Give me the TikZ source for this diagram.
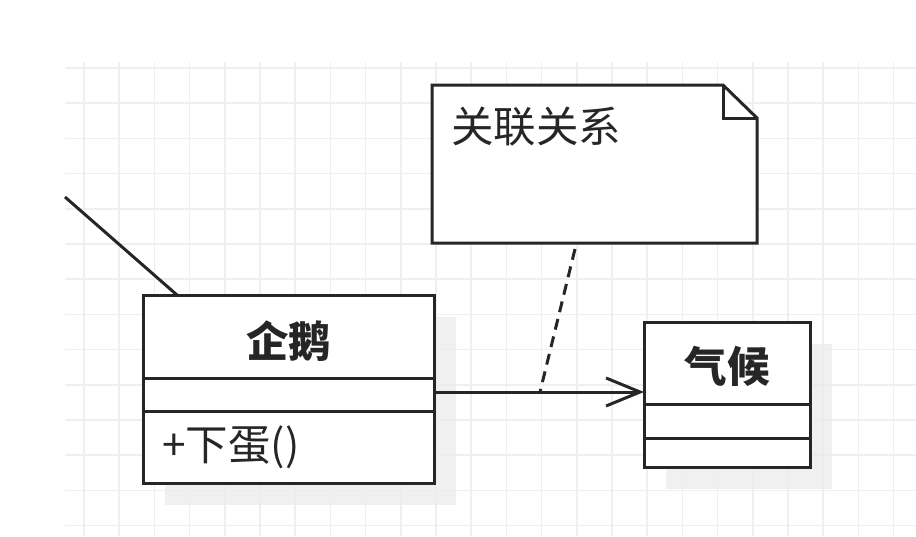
\documentclass[tikz,border=0pt]{standalone}
\usepackage{fontspec}
\newfontfamily\cjk{Noto Sans CJK SC}
\usetikzlibrary{arrows.meta,calc}
\definecolor{gridc}{RGB}{238,238,243}
\definecolor{shadowc}{RGB}{236,236,236}
\tikzset{
  box/.style={draw=black!85, line width=3pt, fill=white, inner sep=0pt, outer sep=0pt},
  bigtext/.style={font=\cjk\fontsize{42.5}{48}\selectfont, text=black!85, inner sep=0pt},
  titletext/.style={font=\cjk\bfseries\fontsize{42.5}{48}\selectfont, text=black!85, inner sep=0pt},
  shadowbox/.style={fill=shadowc, draw=none, opacity=0.75},
  assoc/.style={line width=3pt, draw=black!85, -{Straight Barb[length=34pt,width=28pt,line width=3pt]}},
  plainline/.style={line width=3pt, draw=black!85},
  notelink/.style={line width=3pt, draw=black!85, dash pattern=on 11pt off 7pt}
}
\begin{document}
\begin{tikzpicture}[x=1pt,y=-1pt]
\useasboundingbox[fill=white] (0,0) rectangle (916,536);
% grid
\foreach \i in {0,...,23} {
  \draw[gridc, line width=1.6pt] (84+35.2*\i,62) -- (84+35.2*\i,536);
}
\foreach \j in {0,...,13} {
  \draw[gridc, line width=1.6pt] (65,68+35.2*\j) -- (916,68+35.2*\j);
}
% shadows
\fill[shadowbox] (165,317) rectangle (456,505);
\fill[shadowbox] (666,344) rectangle (832,489);
% penguin class
\node[box, minimum width=291pt, minimum height=83pt, anchor=north west] (pengtitle) at (143,295) {};
\node[box, minimum width=291pt, minimum height=33pt, anchor=north] (pengattr) at (pengtitle.south) {};
\node[box, minimum width=291pt, minimum height=72pt, anchor=north] (pengmeth) at (pengattr.south) {};
\node[titletext] (pengname) at ([yshift=-5pt]pengtitle.center) {企鹅};
\node[bigtext, anchor=west] (pengop) at ([xshift=19pt]pengmeth.west) {+下蛋()};
% climate class
\node[box, minimum width=166pt, minimum height=82pt, anchor=north west] (climtitle) at (644,322) {};
\node[box, minimum width=166pt, minimum height=34pt, anchor=north] (climattr) at (climtitle.south) {};
\node[box, minimum width=166pt, minimum height=29pt, anchor=north] (climmeth) at (climattr.south) {};
\node[titletext] (climname) at ([yshift=-3pt]climtitle.center) {气候};
% note
\node[minimum width=325pt, minimum height=158pt, inner sep=0pt, outer sep=0pt, anchor=north west] (note) at (432,85) {};
\draw[plainline, fill=white, line join=miter]
  (note.north west) -- ([xshift=-34pt]note.north east) -- ([yshift=-33pt]note.north east)
  -- (note.south east) -- (note.south west) -- cycle;
\draw[plainline, line join=miter]
  ([xshift=-34pt]note.north east) -- ([xshift=-34pt,yshift=-33pt]note.north east) -- ([yshift=-33pt]note.north east);
\node[bigtext, anchor=west] (notetext) at ([xshift=19pt,yshift=-42pt]note.north west) {关联关系};
% association
\coordinate (assocstart) at ([yshift=2.5pt]pengattr.east);
\draw[assoc] (assocstart) -- (assocstart -| climtitle.west);
\coordinate (linkpt) at (540,392);
\draw[notelink] ([xshift=-19.5pt,yshift=-6pt]note.south) -- (linkpt);
% incoming line from the left
\coordinate (leftend) at (65,197);
\draw[plainline] (leftend) -- ([xshift=34pt]pengtitle.north west);
\end{tikzpicture}
\end{document}
